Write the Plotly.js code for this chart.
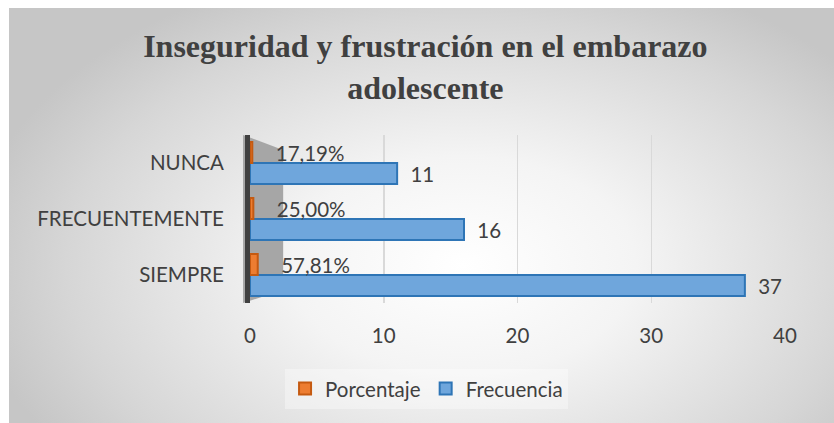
<!DOCTYPE html>
<html>
<head>
<meta charset="utf-8">
<script src="https://cdn.plot.ly/plotly-3.0.1.min.js"></script>
<style>
  html, body { margin: 0; padding: 0; background: #ffffff; }
  #bg { position: absolute; left: 9px; top: 8px; width: 825px; height: 415px;
        background: radial-gradient(ellipse 60% 75% at 55% 62%, #ffffff 0%, #f4f4f4 35%, #d6d6d6 80%, #c6c6c6 100%); }
  #chart { position: absolute; left: 0; top: 0; width: 834px; height: 423px; }
</style>
</head>
<body>
<div id="bg"></div>
<div id="chart"></div>
<script>
const categories = ["SIEMPRE", "FRECUENTEMENTE", "NUNCA"];
const frecuencia = [37, 16, 11];
const porcentaje = [0.5781, 0.25, 0.1719];
const xTicks = [0, 10, 20, 30, 40];
const chartTitle = "Inseguridad y frustración en el embarazo<br>adolescente";

const labelFont = { family: "Lato, 'Liberation Sans', sans-serif", size: 20.5, color: "#404040" };

const traces = [
  {
    type: "bar", orientation: "h", name: "Frecuencia",
    y: categories, x: frecuencia,
    marker: { color: "#6FA6DC", line: { color: "#2E75B6", width: 2 } },
    texttemplate: "\u2002%{x}", textposition: "outside",
    textfont: labelFont, cliponaxis: false, constraintext: "none"
  },
  {
    type: "bar", orientation: "h", name: "Porcentaje",
    y: categories, x: porcentaje,
    marker: { color: "#ED7D31", line: { color: "#C55A11", width: 2 } },
    texttemplate: "\u2002\u2002%{x:.2%}", textposition: "outside",
    textfont: labelFont, cliponaxis: false, constraintext: "none"
  }
];

const layout = {
  width: 834, height: 423,
  margin: { l: 250, r: 49, t: 135, b: 120 },
  paper_bgcolor: "rgba(0,0,0,0)",
  plot_bgcolor: "rgba(0,0,0,0)",
  separators: ",.",
  barmode: "group",
  bargap: 0.25, bargroupgap: 0,
  showlegend: true,
  title: {
    text: chartTitle,
    font: { family: "'Liberation Serif', 'Times New Roman', serif", size: 32, color: "#404040", weight: "bold" },
    xref: "container", x: 0.51, xanchor: "center",
    yref: "container", y: 0.865, yanchor: "top"
  },
  xaxis: {
    range: [0, 40], tickvals: xTicks, ticktext: xTicks.map(String),
    showgrid: true, gridcolor: "#d9d9d9", gridwidth: 1.5,
    zeroline: false, showline: false, ticks: "",
    tickfont: labelFont, ticklabelstandoff: 18, fixedrange: true
  },
  yaxis: {
    type: "category", showgrid: false, zeroline: false,
    showline: true, linecolor: "#404040", linewidth: 5,
    ticks: "", tickfont: labelFont, ticklabelstandoff: 17, fixedrange: true
  },
  legend: {
    orientation: "h", traceorder: "reversed",
    x: 0.33, xanchor: "center", y: -0.51, yanchor: "middle",
    font: labelFont, bgcolor: "rgba(255,255,255,0.35)",
    itemwidth: 30
  },
  shapes: [
    {
      type: "path", xref: "paper", yref: "paper", layer: "below",
      path: "M -0.013 0 L 0.062 0.077 L 0.062 0.911 L -0.013 1 Z",
      fillcolor: "#a6a6a6", line: { width: 0 }
    }
  ]
};

Plotly.newPlot("chart", traces, layout, { displayModeBar: false, staticPlot: true });
</script>
</body>
</html>
